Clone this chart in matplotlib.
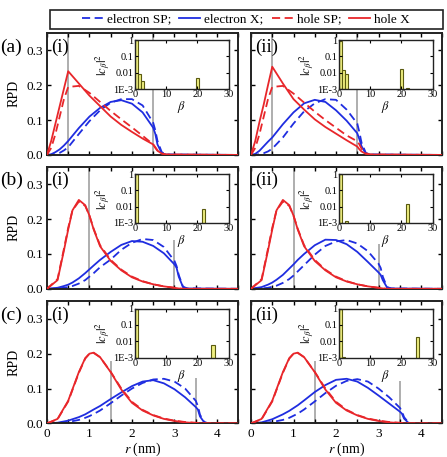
"""Radial probability densities of electron and hole (SP vs X) with |c_beta|^2 insets."""
import matplotlib.pyplot as plt
from matplotlib.lines import Line2D
from matplotlib.patches import Rectangle
from matplotlib.ticker import MultipleLocator, FixedLocator, FixedFormatter

plt.rcParams['font.family'] = ['Liberation Serif', 'DejaVu Serif']
plt.rcParams['mathtext.fontset'] = 'stix'

# ---- row (a): core radius 0.5 nm, shell edge 2.5 nm ----
r_a = [0, 0.1, 0.2, 0.3, 0.4, 0.5, 0.75, 1.0, 1.25, 1.5, 1.75, 2.0, 2.25, 2.5, 2.55, 2.6, 2.7, 2.8, 4.5]
hole_x_a1 = [0, 0.04, 0.09, 0.14, 0.19, 0.24, 0.205, 0.17, 0.14, 0.11, 0.086, 0.066, 0.047, 0.03, 0.02, 0.012, 0.004, 0.001, 0]
hole_sp_a1 = [0, 0.02, 0.06, 0.11, 0.16, 0.195, 0.198, 0.178, 0.152, 0.126, 0.102, 0.079, 0.055, 0.03, 0.022, 0.013, 0.004, 0.001, 0]
elec_x_a1 = [0, 0.002, 0.008, 0.016, 0.027, 0.04, 0.077, 0.11, 0.135, 0.152, 0.157, 0.147, 0.122, 0.078, 0.06, 0.03, 0.005, 0.001, 0]
elec_sp_a1 = [0, 0.0, 0.002, 0.006, 0.013, 0.022, 0.06, 0.097, 0.128, 0.15, 0.16, 0.16, 0.142, 0.092, 0.07, 0.04, 0.008, 0.001, 0]

hole_x_a2 = [0, 0.04, 0.095, 0.145, 0.2, 0.253, 0.205, 0.16, 0.13, 0.102, 0.08, 0.061, 0.042, 0.024, 0.016, 0.01, 0.003, 0.001, 0]
hole_sp_a2 = [0, 0.02, 0.06, 0.11, 0.16, 0.195, 0.198, 0.176, 0.15, 0.124, 0.1, 0.078, 0.056, 0.039, 0.03, 0.018, 0.005, 0.001, 0]
elec_x_a2 = [0, 0.003, 0.012, 0.025, 0.038, 0.05, 0.088, 0.122, 0.148, 0.158, 0.152, 0.128, 0.098, 0.062, 0.045, 0.025, 0.004, 0.001, 0]
elec_sp_a2 = [0, 0.0, 0.002, 0.005, 0.01, 0.018, 0.05, 0.09, 0.125, 0.148, 0.16, 0.158, 0.13, 0.09, 0.065, 0.035, 0.006, 0.001, 0]

# ---- row (b): core radius 1.0 nm, shell edge 3.0 nm ----
r_b = [0, 0.25, 0.4, 0.5, 0.6, 0.75, 0.9, 1.0, 1.1, 1.25, 1.5, 1.75, 2.0, 2.25, 2.5, 2.75, 3.0, 3.05, 3.1, 3.2, 3.3, 4.5]
hole_x_b1 = [0, 0.025, 0.11, 0.17, 0.225, 0.255, 0.24, 0.21, 0.17, 0.122, 0.08, 0.053, 0.033, 0.021, 0.013, 0.007, 0.003, 0.002, 0.001, 0, 0, 0]
hole_sp_b1 = [0, 0.028, 0.115, 0.175, 0.225, 0.25, 0.238, 0.21, 0.172, 0.125, 0.083, 0.055, 0.035, 0.022, 0.013, 0.007, 0.003, 0.002, 0.001, 0, 0, 0]
elec_x_b1 = [0, 0.003, 0.008, 0.012, 0.018, 0.03, 0.045, 0.056, 0.067, 0.083, 0.106, 0.126, 0.137, 0.135, 0.123, 0.102, 0.07, 0.06, 0.035, 0.005, 0.001, 0]
elec_sp_b1 = [0, 0.001, 0.003, 0.005, 0.008, 0.015, 0.025, 0.035, 0.045, 0.062, 0.084, 0.112, 0.132, 0.143, 0.14, 0.12, 0.08, 0.065, 0.04, 0.006, 0.001, 0]

hole_x_b2 = hole_x_b1
hole_sp_b2 = hole_sp_b1
elec_x_b2 = [0, 0.005, 0.012, 0.018, 0.026, 0.04, 0.058, 0.07, 0.083, 0.1, 0.125, 0.141, 0.14, 0.128, 0.106, 0.077, 0.047, 0.04, 0.025, 0.004, 0.001, 0]
elec_sp_b2 = [0, 0.001, 0.003, 0.006, 0.009, 0.017, 0.028, 0.038, 0.05, 0.068, 0.098, 0.123, 0.136, 0.14, 0.13, 0.108, 0.072, 0.06, 0.035, 0.005, 0.001, 0]

# ---- row (c): core radius 1.5 nm, shell edge 3.5 nm ----
r_c = [0, 0.25, 0.5, 0.75, 0.9, 1.0, 1.1, 1.25, 1.5, 1.75, 2.0, 2.25, 2.5, 2.75, 3.0, 3.25, 3.5, 3.55, 3.6, 3.7, 3.8, 4.5]
hole_x_c1 = [0, 0.013, 0.065, 0.147, 0.187, 0.2, 0.203, 0.19, 0.147, 0.097, 0.059, 0.037, 0.023, 0.013, 0.007, 0.003, 0.001, 0.001, 0, 0, 0, 0]
hole_sp_c1 = [0, 0.012, 0.063, 0.145, 0.186, 0.2, 0.202, 0.19, 0.148, 0.1, 0.062, 0.039, 0.024, 0.014, 0.008, 0.004, 0.002, 0.001, 0, 0, 0, 0]
elec_x_c1 = [0, 0.002, 0.008, 0.018, 0.026, 0.033, 0.04, 0.05, 0.07, 0.089, 0.107, 0.12, 0.124, 0.115, 0.098, 0.075, 0.047, 0.04, 0.02, 0.003, 0, 0]
elec_sp_c1 = [0, 0.001, 0.004, 0.01, 0.016, 0.021, 0.027, 0.037, 0.058, 0.08, 0.1, 0.116, 0.126, 0.128, 0.12, 0.1, 0.065, 0.05, 0.025, 0.004, 0, 0]

hole_x_c2 = hole_x_c1
hole_sp_c2 = hole_sp_c1
elec_x_c2 = [0, 0.003, 0.012, 0.026, 0.036, 0.044, 0.052, 0.066, 0.09, 0.11, 0.125, 0.128, 0.12, 0.102, 0.08, 0.057, 0.034, 0.028, 0.014, 0.002, 0, 0]
elec_sp_c2 = [0, 0.001, 0.004, 0.01, 0.016, 0.022, 0.028, 0.04, 0.063, 0.087, 0.108, 0.122, 0.127, 0.12, 0.1, 0.075, 0.045, 0.035, 0.018, 0.003, 0, 0]

# interface radii (nm) and the height each marker line reaches
shell_a = [0.5, 2.5]
shell_b = [1.0, 3.0]
shell_c = [1.5, 3.5]
mark_top_a1, mark_top_a2 = [0.35, 0.35], [0.35, 0.35]
mark_top_b1, mark_top_b2 = [0.35, 0.14], [0.35, 0.13]
mark_top_c1, mark_top_c2 = [0.18, 0.13], [0.18, 0.122]

# ---- insets: |c_beta|^2 ----
beta_a1 = [0.5, 1.5, 2.5, 20]
coef_a1 = [1.0, 0.008, 0.003, 0.005]
beta_a2 = [0.5, 1.5, 2.5, 20, 22]
coef_a2 = [0.85, 0.015, 0.008, 0.018, 0.0011]
beta_b1 = [0.5, 22]
coef_b1 = [1.0, 0.007]
beta_b2 = [0.5, 2.5, 22]
coef_b2 = [1.0, 0.0013, 0.015]
beta_c1 = [0.5, 25]
coef_c1 = [1.0, 0.006]
beta_c2 = [0.5, 1.5, 25]
coef_c2 = [0.95, 0.0011, 0.019]

BLUE = '#1f2de0'
RED = '#e8262a'
GRAY = '#a8a8a8'
DASH = (0, (4.5, 2.5))

panels = [
    ('a', 'i', r_a, hole_x_a1, hole_sp_a1, elec_x_a1, elec_sp_a1, shell_a, mark_top_a1, beta_a1, coef_a1),
    ('a', 'ii', r_a, hole_x_a2, hole_sp_a2, elec_x_a2, elec_sp_a2, shell_a, mark_top_a2, beta_a2, coef_a2),
    ('b', 'i', r_b, hole_x_b1, hole_sp_b1, elec_x_b1, elec_sp_b1, shell_b, mark_top_b1, beta_b1, coef_b1),
    ('b', 'ii', r_b, hole_x_b2, hole_sp_b2, elec_x_b2, elec_sp_b2, shell_b, mark_top_b2, beta_b2, coef_b2),
    ('c', 'i', r_c, hole_x_c1, hole_sp_c1, elec_x_c1, elec_sp_c1, shell_c, mark_top_c1, beta_c1, coef_c1),
    ('c', 'ii', r_c, hole_x_c2, hole_sp_c2, elec_x_c2, elec_sp_c2, shell_c, mark_top_c2, beta_c2, coef_c2),
]

fig = plt.figure(figsize=(4.47, 4.57), dpi=100)
col_left = [0.105, 0.5615]
row_bottom = {'a': 0.661, 'b': 0.368, 'c': 0.0735}

for k, (row, col, r, hx, hsp, ex, esp, shell, mtop, beta, coef) in enumerate(panels):
    c = k % 2
    ax = fig.add_axes([col_left[c], row_bottom[row], 0.428, 0.267])
    for x0, top in zip(shell, mtop):
        ax.vlines(x0, 0, top, color=GRAY, lw=1.3, zorder=1)
    ax.plot(r, esp, color=BLUE, lw=1.3, ls=DASH, zorder=2)
    ax.plot(r, ex, color=BLUE, lw=1.3, zorder=2)
    ax.plot(r, hsp, color=RED, lw=1.3, ls=DASH, zorder=3)
    ax.plot(r, hx, color=RED, lw=1.3, zorder=3)
    ax.set_xlim(0, 4.5)
    ax.set_ylim(0, 0.35)
    ax.xaxis.set_major_locator(FixedLocator([0, 1, 2, 3, 4]))
    ax.xaxis.set_minor_locator(MultipleLocator(0.5))
    ax.yaxis.set_major_locator(FixedLocator([0, 0.1, 0.2, 0.3]))
    ax.tick_params(which='both', direction='in', top=True, right=True,
                   length=3, width=1.0, labelsize=9.5, pad=3)
    for s in ax.spines.values():
        s.set_linewidth(1.4)
        s.set_color('#222222')
    if c == 0:
        ax.set_ylabel('RPD', fontsize=10, labelpad=4)
        ax.yaxis.set_major_formatter(plt.FormatStrFormatter('%.1f'))
        ax.text(-0.245, 0.885, f'({row})', transform=ax.transAxes,
                fontsize=14, ha='left', va='center')
    else:
        ax.tick_params(labelleft=False)
    if row == 'c':
        ax.set_xlabel('$r$ (nm)', fontsize=10, labelpad=1)
    else:
        ax.tick_params(labelbottom=False)
    ax.text(0.02, 0.885, f'({col})', transform=ax.transAxes,
            fontsize=13.5, ha='left', va='center')

    ins = ax.inset_axes([0.46, 0.54, 0.49, 0.40])
    ins.bar(beta, coef, width=1.0, color='#eeee80', edgecolor='#5a5a10',
            linewidth=0.8, log=True)
    ins.set_xlim(0, 30)
    ins.set_ylim(1e-3, 1)
    ins.xaxis.set_major_locator(FixedLocator([0, 10, 20, 30]))
    ins.yaxis.set_major_locator(FixedLocator([1e-3, 1e-2, 1e-1, 1]))
    ins.yaxis.set_major_formatter(FixedFormatter(['1E-3', '0.01', '0.1', '1']))
    ins.yaxis.set_minor_locator(FixedLocator([]))
    ins.tick_params(which='both', direction='in', top=True, right=True,
                    length=2, width=0.8, labelsize=7.5, pad=1)
    for s in ins.spines.values():
        s.set_linewidth(1.0)
        s.set_color('#222222')
    ins.set_xlabel(r'$\beta$', fontsize=9, labelpad=0)
    ins.set_ylabel(r'$|c_{\beta}|^{2}$', fontsize=9, labelpad=1)

# legend: fixed frame across the top, entries centred inside it
W, H = 447, 457
fig.patches.append(Rectangle((50 / W, 1 - 29 / H), 393 / W, 19 / H,
                             transform=fig.transFigure, fill=False,
                             edgecolor='#222222', linewidth=1.2))
handles = [
    Line2D([], [], color=BLUE, lw=1.3, ls=DASH),
    Line2D([], [], color=BLUE, lw=1.3),
    Line2D([], [], color=RED, lw=1.3, ls=DASH),
    Line2D([], [], color=RED, lw=1.3),
]
labels = ['electron SP;', 'electron X;', 'hole SP;', 'hole X']
fig.legend(handles, labels, loc='center', ncol=4,
           bbox_to_anchor=(246 / W, 1 - 19.5 / H), fontsize=9.5,
           frameon=False, handlelength=1.6, handletextpad=0.3,
           borderpad=0.0, columnspacing=0.6)

fig.savefig('out.png', dpi=100)
